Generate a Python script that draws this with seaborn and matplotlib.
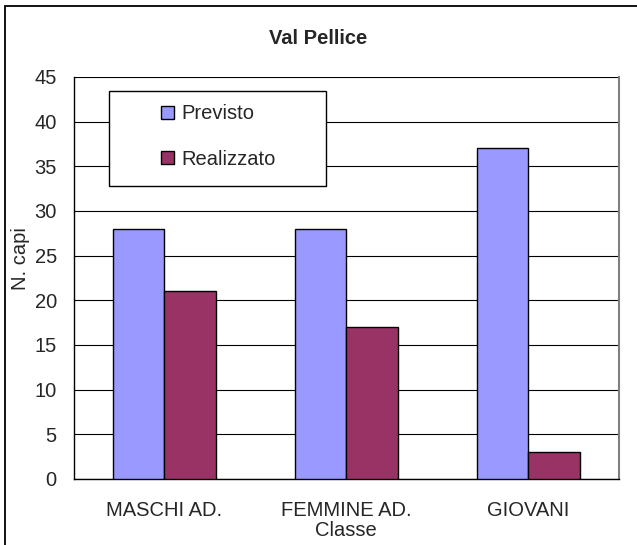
import matplotlib
matplotlib.use("Agg")
import matplotlib.pyplot as plt
from matplotlib.patches import Rectangle
import seaborn as sns
import pandas as pd

categories = ["MASCHI AD.", "FEMMINE AD.", "GIOVANI"]
series_names = ["Previsto", "Realizzato"]
previsto = [28, 28, 37]
realizzato = [21, 17, 3]
yticks = [0, 5, 10, 15, 20, 25, 30, 35, 40, 45]
colors = ["#9999FF", "#993366"]

df = pd.DataFrame({
    "Classe": categories * 2,
    "Serie": [series_names[0]] * 3 + [series_names[1]] * 3,
    "N. capi": previsto + realizzato,
})

sns.set_style("white")
plt.rcParams["font.family"] = ["Liberation Sans", "DejaVu Sans"]

FS = 14.5
W, H = 637, 545
fig = plt.figure(figsize=(W / 100, H / 100), dpi=100)
L, R, T, B = 73.5, 619, 77, 479
ax = fig.add_axes([L / W, 1 - B / H, (R - L) / W, (B - T) / H])

sns.barplot(data=df, x="Classe", y="N. capi", hue="Serie", palette=colors,
            width=0.567, gap=0, edgecolor="black", linewidth=1.0,
            saturation=1, ax=ax, zorder=3, legend=True)

ax.set_ylim(0, 45)
ax.set_xlim(-0.5, 2.5)
ax.set_yticks(yticks)
ax.set_yticklabels([str(v) for v in yticks], fontsize=FS)
ax.yaxis.grid(True, color="black", linewidth=0.8)
ax.set_axisbelow(True)

# x ticks at category boundaries
ax.set_xticks([0, 1, 2])
ax.set_xticklabels(categories, fontsize=FS)
ax.tick_params(axis="x", length=0, pad=16)
ax.set_xticks([-0.5, 0.5, 1.5, 2.5], minor=True)
ax.tick_params(axis="x", which="minor", length=6, width=1, color="black", direction="out")
ax.tick_params(axis="y", length=6, width=1, color="black", direction="out", pad=6)

for s in ["left", "bottom"]:
    ax.spines[s].set_color("black")
    ax.spines[s].set_linewidth(1)
ax.spines["top"].set_visible(False)
ax.spines["right"].set_color("#808080")
ax.spines["right"].set_linewidth(1.5)

ax.set_xlabel("")
ax.set_ylabel("")

# legend box
lx0, lx1, ly0, ly1 = 109, 326, 91, 186
ax.add_patch(Rectangle(((lx0 - L) / (R - L), (B - ly1) / (B - T)),
                       (lx1 - lx0) / (R - L), (ly1 - ly0) / (B - T),
                       transform=ax.transAxes, facecolor="white",
                       edgecolor="black", linewidth=1.0, zorder=4))
handles, labels = ax.get_legend_handles_labels()
leg = ax.legend(handles, labels, loc="center left",
                bbox_to_anchor=((161 - L) / (R - L), (B - 136.5) / (B - T)),
                frameon=False, fontsize=FS, borderpad=0, borderaxespad=0,
                handlelength=0.65, handleheight=0.65, handletextpad=0.35,
                labelspacing=1.3)
leg.set_zorder(5)
for h in leg.legend_handles:
    h.set_edgecolor("black")
    h.set_linewidth(1.0)

# titles and labels
fig.text(318 / W, 1 - 38 / H, "Val Pellice", ha="center", va="center",
         fontsize=FS, fontweight="bold")
fig.text(20 / W, 1 - 259 / H, "N. capi", ha="center", va="center",
         rotation=90, fontsize=FS)
fig.text(346 / W, 1 - 530 / H, "Classe", ha="center", va="center", fontsize=FS)

# outer chart border (cropped at right and bottom)
fig.add_artist(Rectangle((5 / W, -0.02), 1.05, 1 - 6 / H + 0.02,
                         transform=fig.transFigure, facecolor="none",
                         edgecolor="black", linewidth=1.3))

fig.savefig("out.png", dpi=100)
